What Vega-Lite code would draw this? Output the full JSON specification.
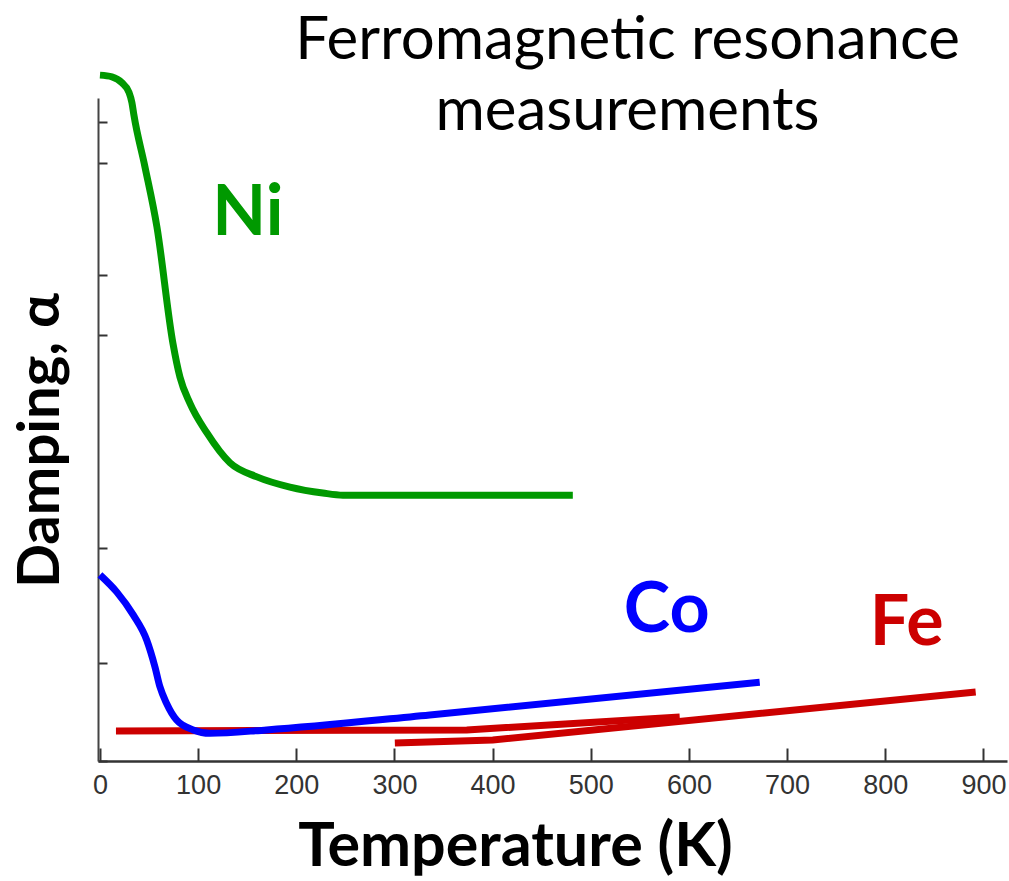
{
  "$schema": "https://vega.github.io/schema/vega-lite/v6.json",
  "width": 909,
  "height": 663,
  "autosize": {"type": "none"},
  "padding": {"left": 98, "top": 98, "right": 2, "bottom": 120},
  "background": "white",
  "config": {"view": {"stroke": null}},
  "title": {
    "text": ["Ferromagnetic resonance", "measurements"],
    "font": "Lato",
    "fontSize": 60,
    "fontWeight": "normal",
    "color": "black",
    "lineHeight": 71,
    "anchor": "middle",
    "frame": "group",
    "dx": 75,
    "offset": -82,
    "baseline": "top"
  },
  "datasets": {
    "curves": [
      {"metal": "Ni", "seg": "Ni", "T": 0, "a": 16.10},
      {"metal": "Ni", "seg": "Ni", "T": 12.2, "a": 16.06},
      {"metal": "Ni", "seg": "Ni", "T": 22.4, "a": 15.92},
      {"metal": "Ni", "seg": "Ni", "T": 29.5, "a": 15.70},
      {"metal": "Ni", "seg": "Ni", "T": 32.6, "a": 15.45},
      {"metal": "Ni", "seg": "Ni", "T": 34.6, "a": 15.16},
      {"metal": "Ni", "seg": "Ni", "T": 45.8, "a": 13.95},
      {"metal": "Ni", "seg": "Ni", "T": 58.0, "a": 12.54},
      {"metal": "Ni", "seg": "Ni", "T": 74.3, "a": 9.81},
      {"metal": "Ni", "seg": "Ni", "T": 81.5, "a": 9.01},
      {"metal": "Ni", "seg": "Ni", "T": 91.6, "a": 8.40},
      {"metal": "Ni", "seg": "Ni", "T": 109.0, "a": 7.70},
      {"metal": "Ni", "seg": "Ni", "T": 132.4, "a": 7.00},
      {"metal": "Ni", "seg": "Ni", "T": 159.9, "a": 6.67},
      {"metal": "Ni", "seg": "Ni", "T": 193.5, "a": 6.43},
      {"metal": "Ni", "seg": "Ni", "T": 227.1, "a": 6.29},
      {"metal": "Ni", "seg": "Ni", "T": 247.5, "a": 6.24},
      {"metal": "Ni", "seg": "Ni", "T": 481.7, "a": 6.24},
      {"metal": "Co", "seg": "Co", "T": 0, "a": 4.37},
      {"metal": "Co", "seg": "Co", "T": 17.0, "a": 3.97},
      {"metal": "Co", "seg": "Co", "T": 33.9, "a": 3.43},
      {"metal": "Co", "seg": "Co", "T": 47.6, "a": 2.84},
      {"metal": "Co", "seg": "Co", "T": 56.0, "a": 2.21},
      {"metal": "Co", "seg": "Co", "T": 61.1, "a": 1.74},
      {"metal": "Co", "seg": "Co", "T": 67.9, "a": 1.35},
      {"metal": "Co", "seg": "Co", "T": 78.1, "a": 0.96},
      {"metal": "Co", "seg": "Co", "T": 95.0, "a": 0.73},
      {"metal": "Co", "seg": "Co", "T": 112.0, "a": 0.65},
      {"metal": "Co", "seg": "Co", "T": 169.8, "a": 0.73},
      {"metal": "Co", "seg": "Co", "T": 336.0, "a": 1.08},
      {"metal": "Co", "seg": "Co", "T": 672.1, "a": 1.85},
      {"metal": "Fe", "seg": "Fe1", "T": 16.3, "a": 0.704},
      {"metal": "Fe", "seg": "Fe1", "T": 373.7, "a": 0.728},
      {"metal": "Fe", "seg": "Fe1", "T": 590.6, "a": 1.033},
      {"metal": "Fe", "seg": "Fe2", "T": 300.4, "a": 0.423},
      {"metal": "Fe", "seg": "Fe2", "T": 400.2, "a": 0.493},
      {"metal": "Fe", "seg": "Fe2", "T": 892.1, "a": 1.62}
    ],
    "labels": [
      {"metal": "Ni", "T": 150.7, "a": 12.35},
      {"metal": "Co", "T": 577.4, "a": 3.03},
      {"metal": "Fe", "T": 821.8, "a": 2.72}
    ]
  },
  "encoding": {
    "x": {
      "field": "T",
      "type": "quantitative",
      "scale": {"domain": [-2, 924], "nice": false, "zero": false},
      "axis": {
        "title": "Temperature (K)",
        "values": [0, 100, 200, 300, 400, 500, 600, 700, 800, 900],
        "grid": false,
        "domainColor": "#333",
        "domainWidth": 2.5,
        "tickColor": "#333",
        "tickWidth": 2,
        "tickSize": -13,
        "labelFont": "Liberation Sans",
        "labelFontSize": 27,
        "labelColor": "#333",
        "labelPadding": 24,
        "labelFlush": false,
        "titleFont": "Lato",
        "titleFontSize": 61,
        "titleFontWeight": "bold",
        "titleColor": "black",
        "titleX": 417,
        "titleY": 104,
        "titleAlign": "center",
        "titleBaseline": "alphabetic"
      }
    },
    "y": {
      "field": "a",
      "type": "quantitative",
      "scale": {"domain": [0, 15.563], "nice": false, "zero": false},
      "axis": {
        "title": "Damping, α",
        "values": [0, 2.3, 5, 10, 11.4, 14.04, 15],
        "labels": false,
        "grid": false,
        "domainColor": "#444",
        "domainWidth": 2,
        "tickColor": "#333",
        "tickWidth": 2,
        "tickSize": -9,
        "titleFont": "Lato",
        "titleFontSize": 58,
        "titleFontWeight": "bold",
        "titleColor": "black",
        "titleAngle": -90,
        "titleX": -40,
        "titleY": 342,
        "titleAlign": "center",
        "titleBaseline": "alphabetic"
      }
    },
    "color": {
      "field": "metal",
      "type": "nominal",
      "scale": {"domain": ["Ni", "Co", "Fe"], "range": ["#009900", "#0000ff", "#cc0000"]},
      "legend": null
    }
  },
  "layer": [
    {
      "data": {"name": "curves"},
      "transform": [{"filter": "datum.metal === 'Fe'"}],
      "mark": {"type": "line", "strokeWidth": 7, "strokeCap": "butt", "interpolate": "linear"},
      "encoding": {"detail": {"field": "seg"}}
    },
    {
      "data": {"name": "curves"},
      "transform": [{"filter": "datum.metal === 'Co'"}],
      "mark": {"type": "line", "strokeWidth": 7, "strokeCap": "butt", "interpolate": "monotone"}
    },
    {
      "data": {"name": "curves"},
      "transform": [{"filter": "datum.metal === 'Ni'"}],
      "mark": {"type": "line", "strokeWidth": 7, "strokeCap": "butt", "interpolate": "monotone"}
    },
    {
      "data": {"name": "labels"},
      "mark": {"type": "text", "font": "Lato", "fontSize": 70, "fontWeight": "bold", "align": "center", "baseline": "alphabetic"},
      "encoding": {"text": {"field": "metal"}}
    }
  ]
}
